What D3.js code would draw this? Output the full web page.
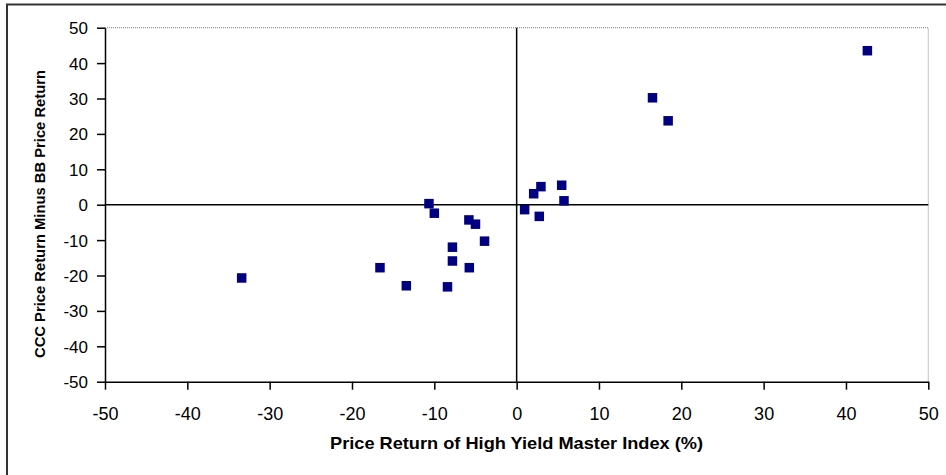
<!DOCTYPE html>
<html>
<head>
<meta charset="utf-8">
<script src="https://cdn.jsdelivr.net/npm/d3@7"></script>
<style>
  html, body { margin: 0; padding: 0; background: #fff; }
  svg { display: block; }
  text { font-family: "Liberation Sans", Arial, sans-serif; fill: #000; }
</style>
</head>
<body>
<svg id="chart" width="946" height="475"></svg>
<script>
// Data
const xValues = [-33.4, -16.6, -13.4, -10.65, -10.0, -8.4, -7.8, -7.8, -5.8, -5.75, -5.0, -3.9, 0.97, 2.07, 2.75, 2.95, 5.47, 5.75, 16.5, 18.4, 42.6];
const yValues = [-20.7, -17.8, -22.9, 0.3, -2.4, -23.2, -12.0, -15.9, -4.3, -17.8, -5.5, -10.3, -1.4, 3.1, -3.3, 5.1, 5.5, 1.1, 30.2, 23.7, 43.5];
const xTicks = [-50, -40, -30, -20, -10, 0, 10, 20, 30, 40, 50];
const yTicks = [-50, -40, -30, -20, -10, 0, 10, 20, 30, 40, 50];
const xTitle = "Price Return of High Yield Master Index (%)";
const yTitle = "CCC Price Return Minus BB Price Return";

const svg = d3.select("#chart");
const pLeft = 105, pRight = 928.3, pTop = 27.7, pBottom = 381.7;

// outer frame
svg.append("rect")
  .attr("x", 7).attr("y", 4.5)
  .attr("width", 960).attr("height", 500)
  .attr("fill", "none").attr("stroke", "#333").attr("stroke-width", 2);

const x = d3.scaleLinear().domain([-50, 50]).range([pLeft, pRight]);
const y = d3.scaleLinear().domain([-50, 50]).range([pBottom, pTop]);

// plot-area border (top and right), gray dotted
svg.append("path")
  .attr("d", `M${pLeft},${pTop}H${pRight}V${pBottom}`)
  .attr("fill", "none").attr("stroke", "#999").attr("stroke-width", 1.2)
  .attr("stroke-dasharray", "1,1");

// zero lines
svg.append("line")
  .attr("x1", pLeft).attr("x2", pRight)
  .attr("y1", y(0)).attr("y2", y(0))
  .attr("stroke", "#000").attr("stroke-width", 1.5);
svg.append("line")
  .attr("x1", x(0)).attr("x2", x(0))
  .attr("y1", pTop).attr("y2", pBottom)
  .attr("stroke", "#000").attr("stroke-width", 1.5);

const fmt = d => String(d); // plain hyphen-minus as in the reference

// axes
const xAxis = d3.axisBottom(x).tickValues(xTicks).tickSize(8).tickSizeOuter(0).tickFormat(fmt);
const gx = svg.append("g").attr("transform", `translate(0,${pBottom})`).call(xAxis);
gx.select(".domain").attr("stroke", "#000").attr("stroke-width", 1.5);
gx.selectAll(".tick line").attr("stroke", "#000").attr("stroke-width", 1.5);
gx.selectAll(".tick text").attr("dy", 0).attr("y", 38)
  .style("font-size", "18px").style("font-family", "'Liberation Sans', Arial, sans-serif").attr("fill", "#000");

const yAxis = d3.axisLeft(y).tickValues(yTicks).tickSize(8).tickSizeOuter(0).tickFormat(fmt);
const gy = svg.append("g").attr("transform", `translate(${pLeft},0)`).call(yAxis);
gy.select(".domain").attr("stroke", "#000").attr("stroke-width", 1.5);
gy.selectAll(".tick line").attr("stroke", "#000").attr("stroke-width", 1.5);
gy.selectAll(".tick text").attr("x", -17).attr("dy", "0.35em")
  .style("font-size", "17px").style("font-family", "'Liberation Sans', Arial, sans-serif").attr("fill", "#000");

// points
const pts = xValues.map((v, i) => ({ x: v, y: yValues[i] }));
const s = 9.5;
svg.append("g").selectAll("rect").data(pts).join("rect")
  .attr("x", d => x(d.x) - s / 2)
  .attr("y", d => y(d.y) - s / 2)
  .attr("width", s).attr("height", s)
  .attr("fill", "#000080");

// titles
svg.append("text")
  .attr("x", 516.5).attr("y", 449)
  .attr("text-anchor", "middle")
  .attr("textLength", 373).attr("lengthAdjust", "spacingAndGlyphs")
  .style("font-size", "17px").style("font-weight", "bold")
  .text(xTitle);

svg.append("text")
  .attr("transform", `translate(45,214) rotate(-90)`)
  .attr("text-anchor", "middle")
  .attr("textLength", 288).attr("lengthAdjust", "spacingAndGlyphs")
  .style("font-size", "14px").style("font-weight", "bold")
  .text(yTitle);
</script>
</body>
</html>
